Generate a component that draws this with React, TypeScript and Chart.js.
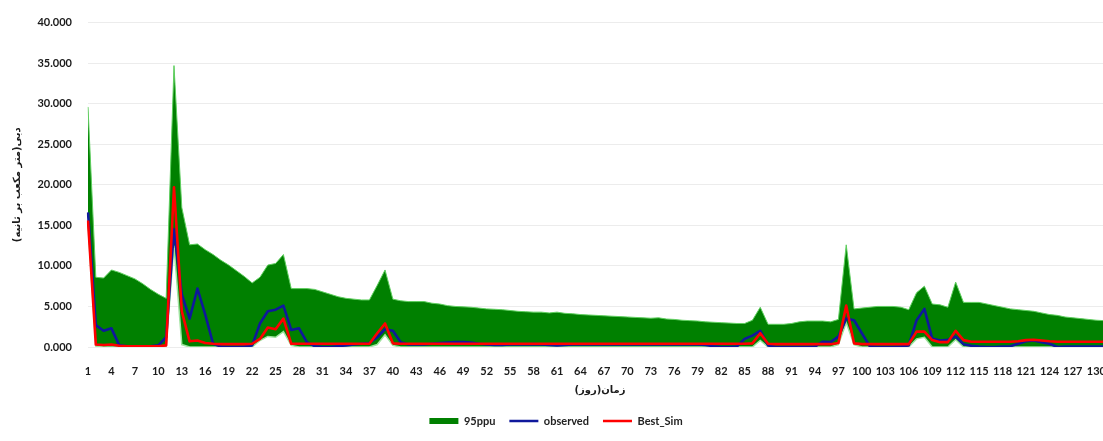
import React, { useEffect, useRef } from "react";
import { Chart, registerables } from "chart.js";

Chart.register(...registerables);

// Daily discharge record, days 1..132
const days: string[] = Array.from({ length: 132 }, (_, i) => String(i + 1));

// Upper limit of the 95PPU band (m³/s)
const ppuUpper: number[] = [
  29.6, 8.6, 8.5, 9.5, 9.2, 8.8, 8.4, 7.8, 7.1, 6.5,
  6.0, 34.7, 17.2, 12.6, 12.7, 12.0, 11.4, 10.7, 10.1, 9.4,
  8.7, 7.9, 8.6, 10.1, 10.3, 11.4, 7.2, 7.2, 7.2, 7.1,
  6.8, 6.5, 6.2, 6.0, 5.9, 5.8, 5.8, 7.6, 9.5, 5.9,
  5.7, 5.6, 5.6, 5.6, 5.4, 5.3, 5.1, 5.0, 4.95, 4.9,
  4.8, 4.7, 4.65, 4.6, 4.5, 4.4, 4.35, 4.3, 4.3, 4.2,
  4.3, 4.15, 4.1, 4.0, 3.95, 3.9, 3.85, 3.8, 3.75, 3.7,
  3.65, 3.6, 3.55, 3.6, 3.45, 3.4, 3.3, 3.25, 3.2, 3.1,
  3.05, 3.0, 2.95, 2.9, 2.9, 3.3, 4.9, 2.8, 2.8, 2.8,
  2.9, 3.1, 3.2, 3.2, 3.2, 3.1, 3.4, 12.6, 4.7, 4.8,
  4.9, 5.0, 5.0, 5.0, 4.9, 4.6, 6.7, 7.5, 5.3, 5.2,
  4.9, 8.0, 5.5, 5.5, 5.5, 5.3, 5.1, 4.9, 4.7, 4.6,
  4.5, 4.4, 4.2, 4.0, 3.9, 3.7, 3.6, 3.5, 3.4, 3.3,
  3.25, 3.2,
];

// Lower limit of the 95PPU band (m³/s)
const ppuLower: number[] = [
  15.0, 0.1, 0, 0, 0, 0, 0, 0, 0, 0,
  0, 12.5, 0.3, 0, 0, 0, 0, 0, 0, 0,
  0, 0, 0.8, 1.3, 1.2, 1.9, 0.2, 0, 0, 0,
  0, 0, 0, 0, 0, 0, 0, 0.3, 1.5, 0.2,
  0, 0, 0, 0, 0, 0, 0, 0, 0, 0,
  0, 0, 0, 0, 0, 0, 0, 0, 0, 0,
  0, 0, 0, 0, 0, 0, 0, 0, 0, 0,
  0, 0, 0, 0, 0, 0, 0, 0, 0, 0,
  0, 0, 0, 0, 0, 0, 0.8, 0, 0, 0,
  0, 0, 0, 0, 0, 0, 0.3, 3.0, 0.3, 0,
  0, 0, 0, 0, 0, 0, 1.0, 1.2, 0, 0,
  0, 0.9, 0, 0, 0, 0, 0, 0, 0, 0,
  0, 0, 0, 0, 0, 0, 0, 0, 0, 0,
  0, 0,
];

// Measured discharge (m³/s)
const observed: number[] = [
  16.6, 2.7, 2.0, 2.3, 0.2, 0.1, 0.1, 0.1, 0.1, 0.2,
  1.2, 14.5, 6.5, 3.5, 7.2, 4.0, 0.4, 0.05, 0.0, 0.0,
  0.05, 0.2, 2.9, 4.4, 4.6, 5.1, 2.1, 2.3, 0.6, 0.1,
  0.0, 0.0, 0.1, 0.2, 0.3, 0.4, 0.5, 1.2, 2.2, 2.0,
  0.6, 0.3, 0.3, 0.3, 0.4, 0.5, 0.55, 0.6, 0.6, 0.55,
  0.4, 0.3, 0.25, 0.25, 0.3, 0.3, 0.3, 0.35, 0.3, 0.25,
  0.2, 0.25, 0.3, 0.3, 0.3, 0.3, 0.3, 0.3, 0.3, 0.3,
  0.3, 0.3, 0.3, 0.3, 0.3, 0.3, 0.3, 0.3, 0.3, 0.25,
  0.1, 0.0, 0.0, 0.05, 1.0, 1.4, 2.0, 0.2, 0.0, 0.0,
  0.0, 0.0, 0.0, 0.05, 0.65, 0.6, 1.3, 3.5, 3.3, 1.7,
  0.1, 0.0, 0.0, 0.0, 0.05, 0.2, 3.3, 4.7, 1.05, 0.8,
  0.9, 1.3, 0.35, 0.15, 0.05, 0.0, 0.0, 0.05, 0.1, 0.4,
  0.7, 0.8, 0.6, 0.4, 0.0, 0.05, 0.05, 0.05, 0.05, 0.05,
  0.05, 0.05,
];

// Best simulation (m³/s)
const bestSim: number[] = [
  15.6, 0.3, 0.25, 0.3, 0.15, 0.1, 0.1, 0.1, 0.1, 0.1,
  0.2, 19.7, 4.4, 0.7, 0.8, 0.5, 0.4, 0.35, 0.35, 0.35,
  0.35, 0.4, 1.0, 2.4, 2.2, 3.5, 0.4, 0.4, 0.4, 0.4,
  0.4, 0.4, 0.4, 0.4, 0.4, 0.4, 0.4, 1.7, 2.9, 0.45,
  0.4, 0.4, 0.4, 0.4, 0.4, 0.4, 0.4, 0.4, 0.4, 0.4,
  0.4, 0.4, 0.4, 0.4, 0.4, 0.4, 0.4, 0.4, 0.4, 0.4,
  0.4, 0.4, 0.4, 0.4, 0.4, 0.4, 0.4, 0.4, 0.4, 0.4,
  0.4, 0.4, 0.4, 0.4, 0.4, 0.4, 0.4, 0.4, 0.4, 0.4,
  0.4, 0.4, 0.4, 0.4, 0.4, 0.45, 1.7, 0.4, 0.35, 0.35,
  0.35, 0.35, 0.35, 0.35, 0.35, 0.35, 0.5, 5.1, 0.45, 0.35,
  0.35, 0.35, 0.35, 0.35, 0.35, 0.35, 1.9, 1.9, 0.85, 0.6,
  0.6, 2.0, 0.85, 0.65, 0.65, 0.65, 0.65, 0.65, 0.65, 0.7,
  0.85, 0.9, 0.8, 0.7, 0.65, 0.65, 0.65, 0.65, 0.65, 0.65,
  0.65, 0.65,
];

const yTitle = "دبی(متر مکعب بر ثانیه)\u200F";
const xTitle = "زمان(روز)\u200F";

const GREEN = "#008000";
const GREEN_EDGE = "#5fcf5f";
const BLUE = "#0f189c";
const RED = "#ff0000";
const TICK_FONT = { family: "Lato, 'DejaVu Sans', sans-serif", size: 11, weight: "bold" as const };
const TITLE_FONT = { family: "'DejaVu Sans', sans-serif", size: 10, weight: "bold" as const };

export default function App() {
  const canvasRef = useRef<HTMLCanvasElement | null>(null);

  useEffect(() => {
    document.body.style.margin = "0";
    document.documentElement.style.overflow = "hidden";
    const canvas = canvasRef.current;
    if (!canvas) return;

    const chart = new Chart(canvas, {
      type: "line",
      data: {
        labels: days,
        datasets: [
          {
            label: "95ppu",
            data: ppuUpper,
            borderColor: GREEN_EDGE,
            borderWidth: 1,
            backgroundColor: GREEN,
            fill: "+1",
            pointRadius: 0,
            pointStyle: "rect",
            tension: 0,
            order: 3,
          },
          {
            label: "lower",
            data: ppuLower,
            borderColor: "#9fe39f",
            borderWidth: 1.5,
            backgroundColor: "transparent",
            fill: false,
            pointRadius: 0,
            tension: 0,
            order: 2,
          },
          {
            label: "observed",
            data: observed,
            borderColor: BLUE,
            backgroundColor: BLUE,
            borderWidth: 2.6,
            borderJoinStyle: "round",
            pointRadius: 0,
            pointStyle: "line",
            fill: false,
            tension: 0,
            order: 1,
          },
          {
            label: "Best_Sim",
            data: bestSim,
            borderColor: RED,
            backgroundColor: RED,
            borderWidth: 2.6,
            borderJoinStyle: "round",
            pointRadius: 0,
            pointStyle: "line",
            fill: false,
            tension: 0,
            order: 0,
          },
        ],
      },
      options: {
        responsive: false,
        animation: false,
        layout: { padding: { top: 17, right: 14, bottom: 4.5, left: 0 } },
        plugins: {
          tooltip: { enabled: false },
          legend: {
            position: "bottom",
            labels: {
              usePointStyle: true,
              pointStyleWidth: 29,
              boxHeight: 6,
              padding: 14,
              color: "#222",
              font: TICK_FONT,
              generateLabels: (c: any) =>
                c.data.datasets
                  .map((ds: any, i: number) => ({ ds, i }))
                  .filter(({ ds }: any) => ds.label !== "lower")
                  .map(({ ds, i }: any) => ({
                    text: ds.label,
                    datasetIndex: i,
                    fillStyle: ds.pointStyle === "rect" ? ds.backgroundColor : ds.borderColor,
                    strokeStyle: ds.pointStyle === "rect" ? ds.backgroundColor : ds.borderColor,
                    lineWidth: ds.pointStyle === "rect" ? 0 : 2.6,
                    pointStyle: ds.pointStyle,
                    hidden: false,
                    fontColor: "#222",
                  })),
            },
          },
        },
        scales: {
          x: {
            type: "category",
            offset: false,
            grid: { display: false },
            border: { display: false },
            ticks: {
              autoSkip: false,
              maxRotation: 0,
              minRotation: 0,
              padding: 10,
              color: "#1a1a1a",
              font: TICK_FONT,
              callback: (_v: any, i: number) => (i % 3 === 0 ? days[i] : ""),
            },
            title: {
              display: true,
              text: xTitle,
              color: "#1a1a1a",
              font: TITLE_FONT,
              padding: { top: 0, bottom: 5 },
            },
            afterFit: (s: any) => {
              s.height = 54.5;
            },
          },
          y: {
            min: 0,
            max: 40,
            grid: { color: "#ececec", lineWidth: 1, drawTicks: false },
            border: { display: false },
            ticks: {
              stepSize: 5,
              padding: 16,
              color: "#1a1a1a",
              font: TICK_FONT,
              callback: (v: any) => Number(v).toFixed(3),
            },
            title: {
              display: true,
              text: yTitle,
              color: "#1a1a1a",
              font: TITLE_FONT,
              padding: { top: 11, bottom: 0 },
            },
            afterFit: (s: any) => {
              s.width = 88;
            },
          },
        },
      },
    } as any);

    return () => chart.destroy();
  }, []);

  return (
    <div style={{ width: 1126, height: 441 }}>
      <canvas ref={canvasRef} width={1126} height={441} />
    </div>
  );
}
